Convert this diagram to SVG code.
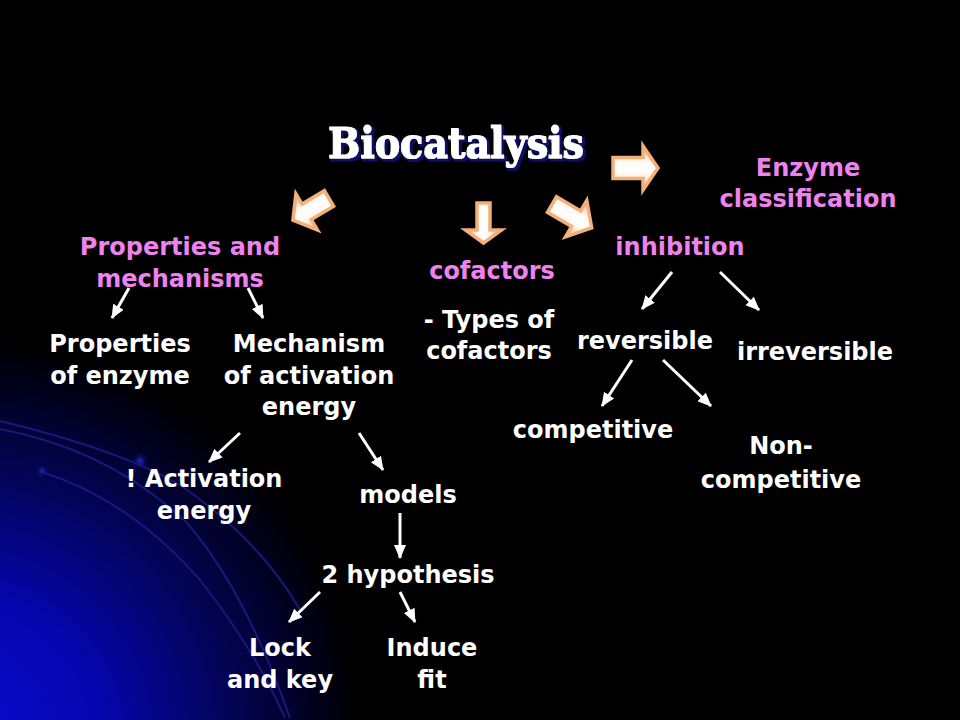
<svg xmlns="http://www.w3.org/2000/svg" width="960" height="720" viewBox="0 0 960 720">
<defs>
<radialGradient id="bg" cx="-40" cy="740" r="400" gradientUnits="userSpaceOnUse">
<stop offset="0" stop-color="#0a0ad0"/>
<stop offset="0.35" stop-color="#0606b0"/>
<stop offset="0.7" stop-color="#030350"/>
<stop offset="1" stop-color="#000000"/>
</radialGradient>
<radialGradient id="dot" cx="0.5" cy="0.5" r="0.5">
<stop offset="0" stop-color="#2a2ab0"/>
<stop offset="1" stop-color="#000060" stop-opacity="0"/>
</radialGradient>
<linearGradient id="blk" x1="0" y1="0" x2="0" y2="1">
<stop offset="0" stop-color="#f4b27a"/>
<stop offset="0.35" stop-color="#fff8f0"/>
<stop offset="0.5" stop-color="#ffffff"/>
<stop offset="0.65" stop-color="#fff8f0"/>
<stop offset="1" stop-color="#f4b27a"/>
</linearGradient>
<filter id="sh" x="-10%" y="-20%" width="120%" height="150%">
<feMorphology in="SourceAlpha" operator="dilate" radius="1" result="d"/>
<feOffset in="d" dx="2" dy="2" result="o"/>
<feFlood flood-color="#10106a"/>
<feComposite in2="o" operator="in" result="s"/>
<feMerge><feMergeNode in="s"/><feMergeNode in="SourceGraphic"/></feMerge>
</filter>
<marker id="ah" markerUnits="userSpaceOnUse" markerWidth="14" markerHeight="14" viewBox="0 0 14 14" refX="13" refY="7" orient="auto">
<path d="M0,1 L14,7 L0,13 z" fill="#ffffff"/>
</marker>
<style>
.t{font-family:"DejaVu Sans","Liberation Sans",sans-serif;font-weight:bold;font-size:24px;fill:#ffffff;text-anchor:middle}
.p{fill:#ee82ee}
.c{stroke:#ffffff;stroke-width:3;fill:none;marker-end:url(#ah)}
.b{fill:url(#blk);stroke:#f2b07a;stroke-width:3.5;stroke-linejoin:miter}
.arc{fill:none;stroke:#18187e;stroke-width:2}
</style>
</defs>
<rect width="960" height="720" fill="#000"/>
<rect width="960" height="720" fill="url(#bg)"/>
<g id="decor">
<path class="arc" d="M0,421 Q120,450 180,485 Q260,540 300,610"/>
<path class="arc" d="M0,429 Q110,450 187,523 Q245,590 290,718"/>
<path class="arc" d="M42,472 Q130,500 200,580 Q255,650 285,718"/>
<circle cx="140" cy="461" r="9" fill="url(#dot)"/>
<circle cx="42" cy="471" r="7" fill="url(#dot)"/>
</g>
<g id="title">
<text x="456" y="158" font-family="'DejaVu Serif','Liberation Serif',serif" font-weight="bold" font-size="43" text-anchor="middle" textLength="256" lengthAdjust="spacingAndGlyphs" fill="#ffffff" stroke="#ffffff" stroke-width="1.2" filter="url(#sh)">Biocatalysis</text>
</g>
<g id="block-arrows">
<path class="b" transform="translate(613,168)" d="M0,-10.5 L30,-10.5 L30,-22 L45,0 L30,22 L30,10.5 L0,10.5 Z"/>
<path class="b" transform="translate(483.5,203) rotate(90)" d="M0,-6.5 L27,-6.5 L27,-18 L40,0 L27,18 L27,6.5 L0,6.5 Z"/>
<path class="b" transform="translate(329,198.5) rotate(149.2)" d="M0,-9 L26,-9 L26,-21 L42,0 L26,21 L26,9 L0,9 Z"/>
<path class="b" transform="translate(552,204.5) rotate(30.4)" d="M0,-9 L28,-9 L28,-21 L46,0 L28,21 L28,9 L0,9 Z"/>
</g>
<g id="connectors">
<line class="c" x1="129" y1="288" x2="112" y2="318"/>
<line class="c" x1="248" y1="288" x2="263" y2="318"/>
<line class="c" x1="672" y1="272" x2="642" y2="309"/>
<line class="c" x1="720" y1="272" x2="759" y2="310"/>
<line class="c" x1="632" y1="360" x2="602" y2="406"/>
<line class="c" x1="663" y1="360" x2="711" y2="406"/>
<line class="c" x1="240" y1="433" x2="209" y2="462"/>
<line class="c" x1="359" y1="433" x2="383" y2="470"/>
<line class="c" x1="400" y1="513" x2="400" y2="558"/>
<line class="c" x1="320" y1="592" x2="289" y2="622"/>
<line class="c" x1="400" y1="592" x2="415" y2="622"/>
</g>
<g id="n-props-mech"><text class="t p" x="180" y="255">Properties and</text><text class="t p" x="180" y="287">mechanisms</text></g>
<g id="n-cofactors"><text class="t p" x="492" y="279">cofactors</text></g>
<g id="n-inhibition"><text class="t p" x="680" y="255">inhibition</text></g>
<g id="n-enzyme-class"><text class="t p" x="808" y="176">Enzyme</text><text class="t p" x="808" y="207">classification</text></g>
<g id="n-types"><text class="t" x="489" y="328">- Types of</text><text class="t" x="489" y="359">cofactors</text></g>
<g id="n-properties"><text class="t" x="120" y="352">Properties</text><text class="t" x="120" y="384">of enzyme</text></g>
<g id="n-mechanism"><text class="t" x="309" y="352">Mechanism</text><text class="t" x="309" y="384">of activation</text><text class="t" x="309" y="415">energy</text></g>
<g id="n-reversible"><text class="t" x="645" y="349">reversible</text></g>
<g id="n-irreversible"><text class="t" x="815" y="360">irreversible</text></g>
<g id="n-competitive"><text class="t" x="593" y="438">competitive</text></g>
<g id="n-noncompetitive"><text class="t" x="781" y="454">Non-</text><text class="t" x="781" y="488">competitive</text></g>
<g id="n-activation"><text class="t" x="204" y="487">! Activation</text><text class="t" x="204" y="519">energy</text></g>
<g id="n-models"><text class="t" x="408" y="503">models</text></g>
<g id="n-hypothesis"><text class="t" x="408" y="583">2 hypothesis</text></g>
<g id="n-lock"><text class="t" x="280" y="656">Lock</text><text class="t" x="280" y="688">and key</text></g>
<g id="n-induce"><text class="t" x="432" y="656">Induce</text><text class="t" x="432" y="688">fit</text></g>
</svg>
